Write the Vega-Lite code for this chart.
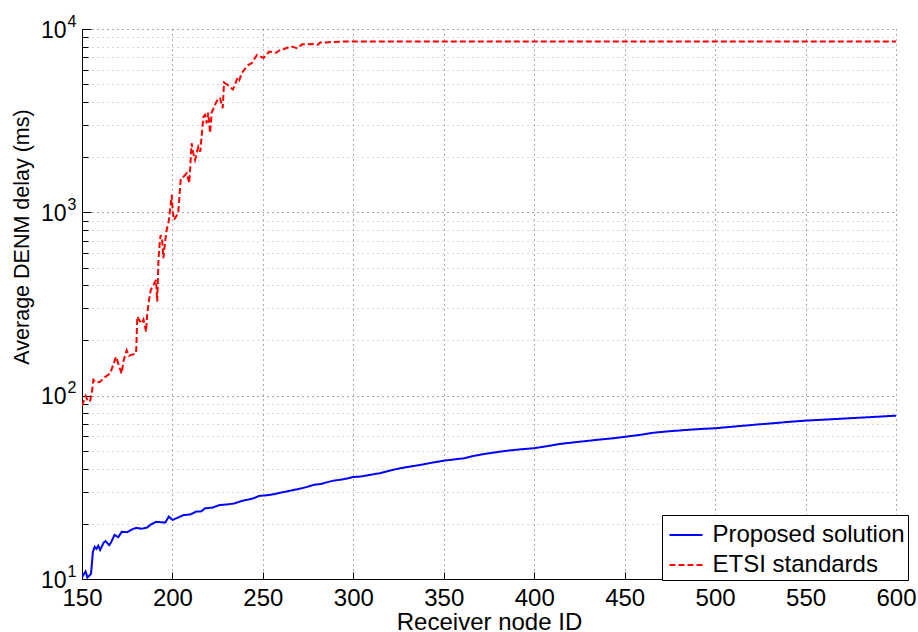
{
  "$schema": "https://vega.github.io/schema/vega-lite/v6.json",
  "width": 814,
  "height": 550,
  "autosize": {"type": "none"},
  "padding": {"left": 82, "top": 29, "right": 22, "bottom": 53},
  "background": "white",
  "config": {"view": {"stroke": null}, "font": "Liberation Sans"},
  "datasets": {
    "d": [
      {"series": "Proposed solution", "node": 150, "delay": 10.2},
      {"series": "Proposed solution", "node": 151, "delay": 10.6},
      {"series": "Proposed solution", "node": 152, "delay": 11.0},
      {"series": "Proposed solution", "node": 153, "delay": 10.2},
      {"series": "Proposed solution", "node": 154, "delay": 10.4},
      {"series": "Proposed solution", "node": 155, "delay": 10.7},
      {"series": "Proposed solution", "node": 156, "delay": 14.0},
      {"series": "Proposed solution", "node": 157, "delay": 15.0},
      {"series": "Proposed solution", "node": 158, "delay": 14.6},
      {"series": "Proposed solution", "node": 159, "delay": 15.2},
      {"series": "Proposed solution", "node": 160, "delay": 14.4},
      {"series": "Proposed solution", "node": 162, "delay": 15.8},
      {"series": "Proposed solution", "node": 163, "delay": 16.1},
      {"series": "Proposed solution", "node": 165, "delay": 15.3},
      {"series": "Proposed solution", "node": 166, "delay": 15.8},
      {"series": "Proposed solution", "node": 168, "delay": 17.4},
      {"series": "Proposed solution", "node": 170, "delay": 16.9},
      {"series": "Proposed solution", "node": 172, "delay": 18.1},
      {"series": "Proposed solution", "node": 175, "delay": 18.0},
      {"series": "Proposed solution", "node": 178, "delay": 18.7},
      {"series": "Proposed solution", "node": 180, "delay": 19.0},
      {"series": "Proposed solution", "node": 183, "delay": 18.8},
      {"series": "Proposed solution", "node": 186, "delay": 19.1},
      {"series": "Proposed solution", "node": 188, "delay": 19.8},
      {"series": "Proposed solution", "node": 191, "delay": 20.5},
      {"series": "Proposed solution", "node": 194, "delay": 20.4},
      {"series": "Proposed solution", "node": 196, "delay": 20.3},
      {"series": "Proposed solution", "node": 198, "delay": 21.9},
      {"series": "Proposed solution", "node": 200, "delay": 21.0},
      {"series": "Proposed solution", "node": 202, "delay": 21.4},
      {"series": "Proposed solution", "node": 206, "delay": 22.3},
      {"series": "Proposed solution", "node": 210, "delay": 22.5},
      {"series": "Proposed solution", "node": 213, "delay": 23.3},
      {"series": "Proposed solution", "node": 216, "delay": 23.4},
      {"series": "Proposed solution", "node": 218, "delay": 24.3},
      {"series": "Proposed solution", "node": 222, "delay": 24.5},
      {"series": "Proposed solution", "node": 226, "delay": 25.3},
      {"series": "Proposed solution", "node": 230, "delay": 25.5},
      {"series": "Proposed solution", "node": 234, "delay": 25.8},
      {"series": "Proposed solution", "node": 238, "delay": 26.6},
      {"series": "Proposed solution", "node": 241, "delay": 27.0},
      {"series": "Proposed solution", "node": 245, "delay": 27.6},
      {"series": "Proposed solution", "node": 248, "delay": 28.4},
      {"series": "Proposed solution", "node": 252, "delay": 28.6},
      {"series": "Proposed solution", "node": 256, "delay": 29.0},
      {"series": "Proposed solution", "node": 260, "delay": 29.6},
      {"series": "Proposed solution", "node": 263, "delay": 30.0},
      {"series": "Proposed solution", "node": 267, "delay": 30.6},
      {"series": "Proposed solution", "node": 270, "delay": 31.0},
      {"series": "Proposed solution", "node": 274, "delay": 31.7},
      {"series": "Proposed solution", "node": 278, "delay": 32.6},
      {"series": "Proposed solution", "node": 282, "delay": 33.0},
      {"series": "Proposed solution", "node": 285, "delay": 33.6},
      {"series": "Proposed solution", "node": 289, "delay": 34.4},
      {"series": "Proposed solution", "node": 293, "delay": 34.8},
      {"series": "Proposed solution", "node": 297, "delay": 35.4},
      {"series": "Proposed solution", "node": 300, "delay": 36.0},
      {"series": "Proposed solution", "node": 304, "delay": 36.2},
      {"series": "Proposed solution", "node": 308, "delay": 36.8},
      {"series": "Proposed solution", "node": 312, "delay": 37.4},
      {"series": "Proposed solution", "node": 315, "delay": 37.8},
      {"series": "Proposed solution", "node": 320, "delay": 39.0},
      {"series": "Proposed solution", "node": 326, "delay": 40.2},
      {"series": "Proposed solution", "node": 331, "delay": 41.0},
      {"series": "Proposed solution", "node": 337, "delay": 41.9},
      {"series": "Proposed solution", "node": 343, "delay": 43.0},
      {"series": "Proposed solution", "node": 350, "delay": 44.2},
      {"series": "Proposed solution", "node": 355, "delay": 44.8},
      {"series": "Proposed solution", "node": 361, "delay": 45.5},
      {"series": "Proposed solution", "node": 366, "delay": 46.8},
      {"series": "Proposed solution", "node": 372, "delay": 48.0},
      {"series": "Proposed solution", "node": 378, "delay": 49.0},
      {"series": "Proposed solution", "node": 385, "delay": 50.1},
      {"series": "Proposed solution", "node": 392, "delay": 50.9},
      {"series": "Proposed solution", "node": 400, "delay": 51.7},
      {"series": "Proposed solution", "node": 407, "delay": 53.0},
      {"series": "Proposed solution", "node": 414, "delay": 54.5},
      {"series": "Proposed solution", "node": 421, "delay": 55.5},
      {"series": "Proposed solution", "node": 429, "delay": 56.6},
      {"series": "Proposed solution", "node": 436, "delay": 57.6},
      {"series": "Proposed solution", "node": 444, "delay": 58.6},
      {"series": "Proposed solution", "node": 450, "delay": 59.6},
      {"series": "Proposed solution", "node": 458, "delay": 61.0},
      {"series": "Proposed solution", "node": 466, "delay": 62.8},
      {"series": "Proposed solution", "node": 475, "delay": 64.0},
      {"series": "Proposed solution", "node": 484, "delay": 65.0},
      {"series": "Proposed solution", "node": 492, "delay": 65.8},
      {"series": "Proposed solution", "node": 500, "delay": 66.4},
      {"series": "Proposed solution", "node": 508, "delay": 67.5},
      {"series": "Proposed solution", "node": 516, "delay": 68.6},
      {"series": "Proposed solution", "node": 524, "delay": 69.7},
      {"series": "Proposed solution", "node": 532, "delay": 70.7},
      {"series": "Proposed solution", "node": 541, "delay": 72.0},
      {"series": "Proposed solution", "node": 550, "delay": 73.1},
      {"series": "Proposed solution", "node": 558, "delay": 73.8},
      {"series": "Proposed solution", "node": 567, "delay": 74.6},
      {"series": "Proposed solution", "node": 575, "delay": 75.4},
      {"series": "Proposed solution", "node": 584, "delay": 76.2},
      {"series": "Proposed solution", "node": 592, "delay": 77.0},
      {"series": "Proposed solution", "node": 600, "delay": 77.8},
      {"series": "ETSI standards", "node": 150, "delay": 88},
      {"series": "ETSI standards", "node": 150.5, "delay": 91},
      {"series": "ETSI standards", "node": 152, "delay": 99.6},
      {"series": "ETSI standards", "node": 153, "delay": 95},
      {"series": "ETSI standards", "node": 154.4, "delay": 92.8},
      {"series": "ETSI standards", "node": 155.5, "delay": 105},
      {"series": "ETSI standards", "node": 156.3, "delay": 122},
      {"series": "ETSI standards", "node": 158, "delay": 118},
      {"series": "ETSI standards", "node": 160, "delay": 119},
      {"series": "ETSI standards", "node": 162, "delay": 125},
      {"series": "ETSI standards", "node": 165.5, "delay": 132},
      {"series": "ETSI standards", "node": 167, "delay": 145},
      {"series": "ETSI standards", "node": 168.8, "delay": 163},
      {"series": "ETSI standards", "node": 170, "delay": 150},
      {"series": "ETSI standards", "node": 171.9, "delay": 132},
      {"series": "ETSI standards", "node": 173, "delay": 155},
      {"series": "ETSI standards", "node": 174.7, "delay": 177},
      {"series": "ETSI standards", "node": 176, "delay": 165},
      {"series": "ETSI standards", "node": 177.5, "delay": 167},
      {"series": "ETSI standards", "node": 179.9, "delay": 170},
      {"series": "ETSI standards", "node": 180.6, "delay": 270},
      {"series": "ETSI standards", "node": 182, "delay": 255},
      {"series": "ETSI standards", "node": 183, "delay": 248},
      {"series": "ETSI standards", "node": 184, "delay": 260},
      {"series": "ETSI standards", "node": 185.4, "delay": 223},
      {"series": "ETSI standards", "node": 186.1, "delay": 281},
      {"series": "ETSI standards", "node": 187, "delay": 330},
      {"series": "ETSI standards", "node": 188, "delay": 377},
      {"series": "ETSI standards", "node": 190, "delay": 410},
      {"series": "ETSI standards", "node": 190.9, "delay": 428},
      {"series": "ETSI standards", "node": 191.6, "delay": 326},
      {"series": "ETSI standards", "node": 192.3, "delay": 560},
      {"series": "ETSI standards", "node": 193.1, "delay": 707},
      {"series": "ETSI standards", "node": 193.5, "delay": 753},
      {"series": "ETSI standards", "node": 194.3, "delay": 700},
      {"series": "ETSI standards", "node": 195, "delay": 562},
      {"series": "ETSI standards", "node": 196, "delay": 700},
      {"series": "ETSI standards", "node": 196.8, "delay": 801},
      {"series": "ETSI standards", "node": 198, "delay": 900},
      {"series": "ETSI standards", "node": 199.6, "delay": 1245},
      {"series": "ETSI standards", "node": 200.2, "delay": 1000},
      {"series": "ETSI standards", "node": 200.9, "delay": 909},
      {"series": "ETSI standards", "node": 202, "delay": 950},
      {"series": "ETSI standards", "node": 203.2, "delay": 990},
      {"series": "ETSI standards", "node": 204.6, "delay": 1535},
      {"series": "ETSI standards", "node": 206, "delay": 1560},
      {"series": "ETSI standards", "node": 207.9, "delay": 1634},
      {"series": "ETSI standards", "node": 209.3, "delay": 1442},
      {"series": "ETSI standards", "node": 210.6, "delay": 2383},
      {"series": "ETSI standards", "node": 211.5, "delay": 2100},
      {"series": "ETSI standards", "node": 212.5, "delay": 1932},
      {"series": "ETSI standards", "node": 214.3, "delay": 2281},
      {"series": "ETSI standards", "node": 215.4, "delay": 2144},
      {"series": "ETSI standards", "node": 217.1, "delay": 3327},
      {"series": "ETSI standards", "node": 218, "delay": 3398},
      {"series": "ETSI standards", "node": 218.9, "delay": 3062},
      {"series": "ETSI standards", "node": 219.8, "delay": 3500},
      {"series": "ETSI standards", "node": 220.8, "delay": 2705},
      {"series": "ETSI standards", "node": 221.7, "delay": 3500},
      {"series": "ETSI standards", "node": 223.5, "delay": 3855},
      {"series": "ETSI standards", "node": 225.3, "delay": 4192},
      {"series": "ETSI standards", "node": 226.3, "delay": 4190},
      {"series": "ETSI standards", "node": 227.8, "delay": 3700},
      {"series": "ETSI standards", "node": 228.5, "delay": 5103},
      {"series": "ETSI standards", "node": 230.5, "delay": 4955},
      {"series": "ETSI standards", "node": 233.4, "delay": 4680},
      {"series": "ETSI standards", "node": 234.6, "delay": 4950},
      {"series": "ETSI standards", "node": 236, "delay": 5460},
      {"series": "ETSI standards", "node": 237, "delay": 5275},
      {"series": "ETSI standards", "node": 238.3, "delay": 5740},
      {"series": "ETSI standards", "node": 241, "delay": 6240},
      {"series": "ETSI standards", "node": 242, "delay": 6370},
      {"series": "ETSI standards", "node": 243.8, "delay": 6510},
      {"series": "ETSI standards", "node": 246.7, "delay": 7220},
      {"series": "ETSI standards", "node": 250.4, "delay": 6950},
      {"series": "ETSI standards", "node": 253.5, "delay": 7530},
      {"series": "ETSI standards", "node": 257.4, "delay": 7420},
      {"series": "ETSI standards", "node": 259.5, "delay": 7690},
      {"series": "ETSI standards", "node": 261.3, "delay": 7760},
      {"series": "ETSI standards", "node": 265.5, "delay": 8050},
      {"series": "ETSI standards", "node": 268.8, "delay": 7860},
      {"series": "ETSI standards", "node": 271.8, "delay": 8250},
      {"series": "ETSI standards", "node": 277.5, "delay": 8280},
      {"series": "ETSI standards", "node": 280.4, "delay": 8200},
      {"series": "ETSI standards", "node": 281.6, "delay": 8430},
      {"series": "ETSI standards", "node": 285, "delay": 8450},
      {"series": "ETSI standards", "node": 289, "delay": 8500},
      {"series": "ETSI standards", "node": 295, "delay": 8540},
      {"series": "ETSI standards", "node": 300, "delay": 8550},
      {"series": "ETSI standards", "node": 350, "delay": 8555},
      {"series": "ETSI standards", "node": 400, "delay": 8555},
      {"series": "ETSI standards", "node": 450, "delay": 8555},
      {"series": "ETSI standards", "node": 500, "delay": 8555},
      {"series": "ETSI standards", "node": 550, "delay": 8555},
      {"series": "ETSI standards", "node": 600, "delay": 8555}
    ]
  },
  "data": {"name": "d"},
  "layer": [
    {
      "mark": {"type": "line", "strokeWidth": 2, "clip": true},
      "encoding": {
        "x": {
          "field": "node",
          "type": "quantitative",
          "scale": {"domain": [150, 600], "nice": false, "zero": false},
          "axis": {
            "values": [150, 200, 250, 300, 350, 400, 450, 500, 550, 600],
            "title": "Receiver node ID",
            "titleFont": "Liberation Sans",
            "titleFontSize": 24,
            "titleFontWeight": "normal",
            "titleColor": "black",
            "titleBaseline": "alphabetic",
            "titleY": 50,
            "labelFont": "Liberation Sans",
            "labelFontSize": 24,
            "labelColor": "black",
            "labelBaseline": "alphabetic",
            "labelPadding": 33.7,
            "labelFlush": false,
            "labelOverlap": false,
            "tickSize": -7,
            "tickColor": "black",
            "tickWidth": 1,
            "domainColor": "black",
            "domainWidth": 1,
            "grid": true,
            "gridColor": "#555555",
            "gridDash": [1, 4],
            "gridWidth": 1
          }
        },
        "y": {
          "field": "delay",
          "type": "quantitative",
          "scale": {"type": "log", "domain": [10, 10000], "nice": false},
          "axis": {
            "values": [10, 20, 30, 40, 50, 60, 70, 80, 90, 100, 200, 300, 400, 500, 600, 700, 800, 900, 1000, 2000, 3000, 4000, 5000, 6000, 7000, 8000, 9000, 10000],
            "labelExpr": "abs(log(datum.value)/LN10 - round(log(datum.value)/LN10)) < 0.001 ? '10' : ''",
            "title": "Average DENM delay (ms)",
            "titleFont": "Liberation Sans",
            "titleFontSize": 21.5,
            "titleFontWeight": "normal",
            "titleColor": "black",
            "titleBaseline": "alphabetic",
            "titleX": -53.5,
            "titleY": 207.5,
            "labelFont": "Liberation Sans",
            "labelFontSize": 23,
            "labelColor": "black",
            "labelAlign": "right",
            "labelBaseline": "alphabetic",
            "labelOffset": 8.3,
            "labelPadding": 25,
            "labelFlush": false,
            "labelOverlap": false,
            "tickSize": -9,
            "tickColor": "black",
            "tickOpacity": {"condition": {"test": "abs(log(datum.value)/LN10 - round(log(datum.value)/LN10)) < 0.001", "value": 1}, "value": 0},
            "domainColor": "black",
            "domainWidth": 1,
            "grid": true,
            "gridColor": {"condition": {"test": "abs(log(datum.value)/LN10 - round(log(datum.value)/LN10)) < 0.001", "value": "#555555"}, "value": "#b0b0b0"},
            "gridDash": [1, 4],
            "gridWidth": 1
          }
        },
        "color": {
          "field": "series",
          "type": "nominal",
          "scale": {"domain": ["Proposed solution", "ETSI standards"], "range": ["#0000ff", "#ff0000"]},
          "legend": {
            "title": null,
            "orient": "none",
            "legendX": 580,
            "legendY": 486,
            "strokeColor": "black",
            "fillColor": "white",
            "padding": 2.5,
            "cornerRadius": 0,
            "labelFont": "Liberation Sans",
            "labelFontSize": 24,
            "labelColor": "black",
            "labelLimit": 400,
            "labelOffset": 9,
            "symbolOffset": 4,
            "rowPadding": 0,
            "symbolType": "stroke",
            "symbolSize": 1089,
            "symbolStrokeWidth": 2
          }
        },
        "strokeDash": {
          "field": "series",
          "type": "nominal",
          "scale": {"domain": ["Proposed solution", "ETSI standards"], "range": [[1, 0], [6, 3]]},
          "legend": {
            "title": null,
            "orient": "none",
            "legendX": 580,
            "legendY": 486,
            "strokeColor": "black",
            "fillColor": "white",
            "padding": 2.5,
            "cornerRadius": 0,
            "labelFont": "Liberation Sans",
            "labelFontSize": 24,
            "labelColor": "black",
            "labelLimit": 400,
            "labelOffset": 9,
            "symbolOffset": 4,
            "rowPadding": 0,
            "symbolType": "stroke",
            "symbolSize": 1089,
            "symbolStrokeWidth": 2
          }
        }
      }
    },
    {
      "mark": {"type": "line", "opacity": 0},
      "encoding": {
        "x": {"field": "node", "type": "quantitative"},
        "y": {
          "field": "delay",
          "type": "quantitative",
          "axis": {
            "orient": "left",
            "values": [10, 20, 30, 40, 50, 60, 70, 80, 90, 100, 200, 300, 400, 500, 600, 700, 800, 900, 1000, 2000, 3000, 4000, 5000, 6000, 7000, 8000, 9000, 10000],
            "labelExpr": "abs(log(datum.value)/LN10 - round(log(datum.value)/LN10)) < 0.001 ? '' + round(log(datum.value)/LN10) : ''",
            "title": null,
            "domain": false,
            "grid": false,
            "labelFont": "Liberation Sans",
            "labelFontSize": 16,
            "labelColor": "black",
            "labelAlign": "right",
            "labelBaseline": "alphabetic",
            "labelOffset": -2.7,
            "labelPadding": 12,
            "labelFlush": false,
            "labelOverlap": false,
            "tickSize": -6,
            "tickColor": "black",
            "tickOpacity": {"condition": {"test": "abs(log(datum.value)/LN10 - round(log(datum.value)/LN10)) < 0.001", "value": 0}, "value": 1}
          }
        }
      }
    }
  ],
  "resolve": {"axis": {"y": "independent"}}
}
